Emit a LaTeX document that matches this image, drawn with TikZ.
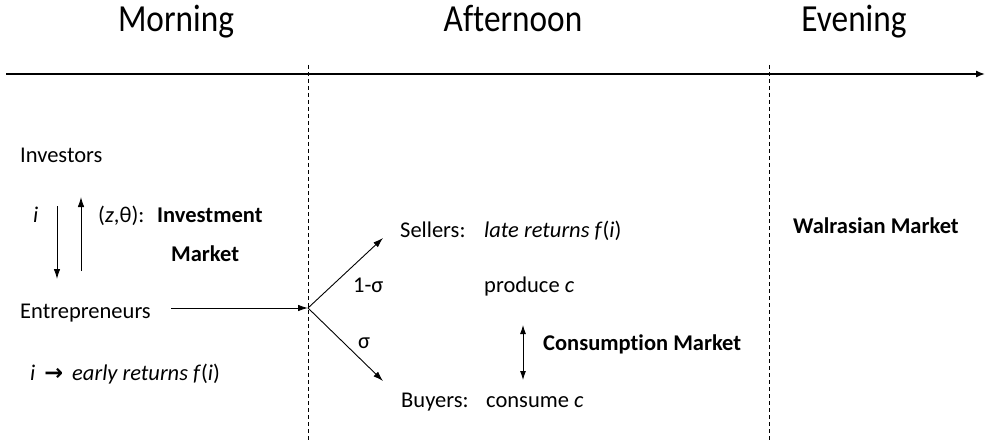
\documentclass[tikz,border=0pt]{standalone}
\usepackage{fontspec}
\setmainfont[Ligatures=NoCommon]{Carlito}
\newfontfamily\symfont{DejaVu Sans}
\usetikzlibrary{arrows.meta}
\newcommand{\tallttl}[1]{\scalebox{1}[1.15]{#1}}
\begin{document}
\begin{tikzpicture}[x=1pt,y=-1pt,
  txt/.style={inner sep=0pt,anchor=base west,font=\fontsize{22.5}{27}\selectfont},
  ttl/.style={inner sep=0pt,anchor=base,font=\fontsize{33.3}{40}\selectfont},
  arr/.style={-{Latex[length=10pt,width=6.5pt]},line width=0.9pt},
  darr/.style={{Latex[length=9pt,width=6pt]}-{Latex[length=9pt,width=6pt]},line width=0.9pt},
  sep/.style={dashed,dash pattern=on 4pt off 3pt,line width=0.7pt}]
\useasboundingbox (0,0) rectangle (985,441);
% titles
\node[ttl] (morning) at (176,32) {\tallttl{Morning}};
\node[ttl] (afternoon) at (513,32) {\tallttl{Afternoon}};
\node[ttl] (evening) at (854,32) {\tallttl{Evening}};
% timeline
\coordinate (tl0) at (6,74);
\coordinate (tl1) at (985,74);
\draw[-{Latex[length=9pt,width=7pt]},line width=1.4pt] (tl0) -- (tl1);
% separators
\coordinate (s1a) at (308,65); \coordinate (s1b) at (308,441);
\coordinate (s2a) at (769,65); \coordinate (s2b) at (769,441);
\draw[sep] (s1a) -- (s1b);
\draw[sep] (s2a) -- (s2b);
% Morning
\node[txt] (investors) at (20,163) {Investors};
\node[txt] (ii) at (33,222) {\itshape i};
\coordinate (dA) at (57,206); \coordinate (dB) at (57,279);
\draw[arr] (dA) -- (dB);
\coordinate (uA) at (81,271); \coordinate (uB) at (81,197);
\draw[arr] (uA) -- (uB);
\node[txt] (ztheta) at (98,222) {(\textit{z},θ):};
\node[txt] (invest) at (157,222) {\bfseries Investment};
\node[txt] (imarket) at (171,261) {\bfseries Market};
\node[txt] (entre) at (20,318) {Entrepreneurs};
\coordinate (split) at (308,308);
\coordinate (eA) at (171,308);
\draw[arr] (eA) -- (split);
\node[txt] (early) at (30,380) {\itshape i\hspace{9pt}{\upshape\symfont\bfseries →}\hspace{9pt}early returns f\/\upshape(\itshape i\/\upshape)};
% branches
\coordinate (upTip) at (383,238);
\coordinate (dnTip) at (383,381);
\draw[arr] (split) -- (upTip);
\draw[arr] (split) -- (dnTip);
\node[txt] (oms) at (353,292) {1-σ};
\node[txt] (sig) at (358,348) {σ};
% Afternoon
\node[txt] (sellers) at (400,237) {Sellers:};
\node[txt] (late) at (484,237) {\itshape late returns f\/\upshape(\itshape i\/\upshape)};
\node[txt] (produce) at (484,292) {produce \textit{c}};
\coordinate (cA) at (523,325); \coordinate (cB) at (523,380);
\draw[darr] (cA) -- (cB);
\node[txt] (cmarket) at (543,350) {\bfseries Consumption Market};
\node[txt] (buyers) at (401,407) {Buyers:};
\node[txt] (consume) at (486,407) {consume \textit{c}};
% Evening
\node[txt] (walras) at (793,233) {\bfseries Walrasian Market};
\end{tikzpicture}
\end{document}
